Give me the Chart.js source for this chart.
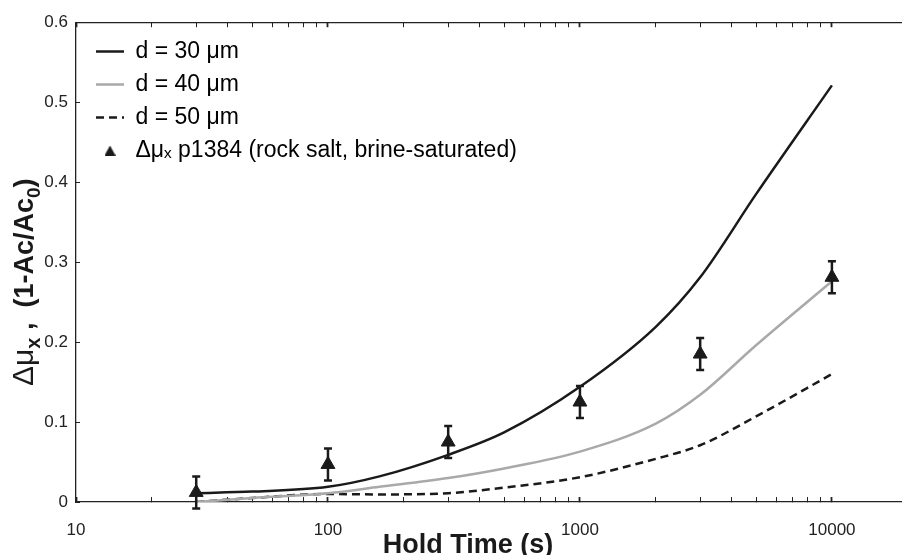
<!DOCTYPE html>
<html>
<head>
<meta charset="utf-8">
<script src="https://cdn.jsdelivr.net/npm/chart.js@4.4.1/dist/chart.umd.min.js"></script>
<style>
  html, body { margin: 0; padding: 0; background: #fff; }
  canvas { display: block; }
</style>
</head>
<body>
<canvas id="chart" width="902" height="555"></canvas>
<script>
// model curves: hold time (s) -> delta mu_x
const curveTimes = [30, 50, 100, 160, 300, 500, 1000, 2000, 3000, 5000, 10000];
const d30 = [0.011, 0.013, 0.019, 0.032, 0.059, 0.087, 0.144, 0.219, 0.281, 0.385, 0.521];
const d40 = [0.000, 0.005, 0.011, 0.019, 0.030, 0.042, 0.063, 0.098, 0.134, 0.196, 0.276];
const d50 = [0.000, 0.005, 0.010, 0.0095, 0.011, 0.018, 0.031, 0.054, 0.071, 0.107, 0.160];

// measured p1384 (rock salt, brine-saturated)
const obsTimes = [30, 100, 300, 1000, 3000, 10000];
const obsMu    = [0.012, 0.047, 0.075, 0.125, 0.185, 0.281];
const obsErr   = [0.020, 0.020, 0.020, 0.020, 0.020, 0.020];

const xTickLabels = [10, 100, 1000, 10000];
const yTicks      = [0, 0.1, 0.2, 0.3, 0.4, 0.5, 0.6];
const yTickLabels = ['0', '0.1', '0.2', '0.3', '0.4', '0.5', '0.6'];

const FONT = "'Liberation Sans', Arial, Helvetica, sans-serif";
const INK = '#1a1a1a';

// minor ticks 10,20..90,100,200.. on the log axis
const xTicks = [];
xTickLabels.forEach((d, i) => {
  if (i === xTickLabels.length - 1) { xTicks.push(d); return; }
  for (let k = 1; k <= 9; k++) xTicks.push(k * d);
});
const isDecade = v => xTickLabels.includes(v);

const pairs = (xs, ys) => xs.map((x, i) => ({ x, y: ys[i] }));

// small triangle for the legend entry
const triIcon = document.createElement('canvas');
triIcon.width = 11; triIcon.height = 10;
(() => {
  const t = triIcon.getContext('2d');
  t.fillStyle = INK;
  t.beginPath(); t.moveTo(5.5, 0); t.lineTo(11, 10); t.lineTo(0, 10); t.closePath(); t.fill();
})();

// error bars drawn behind the triangles
const errorBars = {
  id: 'errorBars',
  beforeDatasetDraw(chart, args) {
    const ds = chart.data.datasets[args.index];
    if (!ds.errors) return;
    const y = chart.scales.y, c = chart.ctx;
    c.save();
    c.strokeStyle = INK;
    c.lineWidth = 2.5;
    args.meta.data.forEach((pt, i) => {
      const top = y.getPixelForValue(obsMu[i] + ds.errors[i]);
      const bot = y.getPixelForValue(obsMu[i] - ds.errors[i]);
      c.beginPath();
      c.moveTo(pt.x, top); c.lineTo(pt.x, bot);
      c.moveTo(pt.x - 4, top); c.lineTo(pt.x + 4, top);
      c.moveTo(pt.x - 4, bot); c.lineTo(pt.x + 4, bot);
      c.stroke();
    });
    c.restore();
  }
};

// nudge the in-plot legend to where the figure has it
const legendNudge = {
  id: 'legendNudge',
  afterLayout(chart) {
    chart.legend.left += 10;
    chart.legend.top += 30;
  }
};

// axis titles with sub-scripts
const axisTitles = {
  id: 'axisTitles',
  afterDraw(chart) {
    const c = chart.ctx;
    c.save();
    c.fillStyle = INK;
    c.textBaseline = 'alphabetic';
    c.font = `bold 27px ${FONT}`;
    c.textAlign = 'center';
    c.fillText('Hold Time (s)', 468, 553);

    c.translate(33, 386);
    c.rotate(-Math.PI / 2);
    c.textAlign = 'left';
    const parts = [
      { t: '\u0394\u03bc', f: `30px ${FONT}`, dy: 0 },
      { t: 'x', f: `bold 20px ${FONT}`, dy: 7 },
      { t: ' ,  (1-Ac/Ac', f: `bold 27px ${FONT}`, dy: 0 },
      { t: '0', f: `bold 19px ${FONT}`, dy: 7 },
      { t: ')', f: `bold 27px ${FONT}`, dy: 0 }
    ];
    let x = 0;
    parts.forEach(p => {
      c.font = p.f;
      c.fillText(p.t, x, p.dy);
      x += c.measureText(p.t).width;
    });
    c.restore();
  }
};

const logAxis = (position) => ({
  type: 'logarithmic',
  position,
  bounds: 'data',
  min: 10,
  max: 18800,
  afterBuildTicks: s => { s.ticks = xTicks.map(v => ({ value: v })); },
  afterFit: s => {
    s.height = position === 'bottom' ? 53 : 0;
    s.paddingLeft = 0;
    s.paddingRight = 0;
  },
  ticks: {
    display: position === 'bottom',
    autoSkip: false,
    maxRotation: 0,
    padding: 23,
    font: { family: FONT, size: 17 },
    color: '#222',
    callback: v => isDecade(v) ? String(v) : ''
  },
  grid: {
    drawOnChartArea: false,
    drawTicks: true,
    tickLength: -5,
    tickColor: '#222',
    tickWidth: c => (c.tick && isDecade(c.tick.value)) ? 1.8 : 1
  },
  border: { color: '#222', width: 1.3 }
});

new Chart(document.getElementById('chart'), {
  type: 'line',
  data: {
    datasets: [
      { label: 'd = 30 \u03bcm', data: pairs(curveTimes, d30), borderColor: INK, backgroundColor: INK,
        borderWidth: 2.5, pointRadius: 0, pointStyle: 'line', cubicInterpolationMode: 'monotone' },
      { label: 'd = 40 \u03bcm', data: pairs(curveTimes, d40), borderColor: '#a9a9a9', backgroundColor: '#a9a9a9',
        borderWidth: 2.5, pointRadius: 0, pointStyle: 'line', cubicInterpolationMode: 'monotone' },
      { label: 'd = 50 \u03bcm', data: pairs(curveTimes, d50), borderColor: INK, backgroundColor: INK,
        borderWidth: 2.5, borderDash: [8, 5], pointRadius: 0, pointStyle: 'line', cubicInterpolationMode: 'monotone' },
      { label: '\u0394\u03bc\u2093 p1384 (rock salt, brine-saturated)', data: pairs(obsTimes, obsMu),
        errors: obsErr, showLine: false, order: -1, pointStyle: 'triangle', pointRadius: 8,
        legendIcon: triIcon, backgroundColor: INK, borderColor: INK, borderWidth: 1 }
    ]
  },
  options: {
    responsive: false,
    animation: false,
    events: [],
    layout: { autoPadding: false, padding: { top: 21, left: 0, right: 1, bottom: 0 } },
    plugins: {
      tooltip: { enabled: false },
      legend: {
        position: 'chartArea',
        align: 'start',
        labels: {
          usePointStyle: true,
          pointStyleWidth: 28,
          boxHeight: 8,
          padding: 10,
          color: INK,
          font: { family: FONT, size: 23 },
          generateLabels: chart => chart.data.datasets.map((ds, i) => ({
            text: ds.label,
            datasetIndex: i,
            fillStyle: ds.backgroundColor,
            strokeStyle: ds.borderColor,
            lineWidth: ds.pointStyle === 'line' ? 2.5 : 1,
            lineDash: ds.borderDash || [],
            pointStyle: ds.legendIcon || ds.pointStyle,
            hidden: false
          }))
        }
      }
    },
    scales: {
      x: logAxis('bottom'),
      xTop: logAxis('top'),
      y: {
        min: 0,
        max: 0.6,
        afterBuildTicks: s => { s.ticks = yTicks.map(v => ({ value: v })); },
        afterFit: s => { s.width = 76; },
        ticks: {
          padding: 12,
          font: { family: FONT, size: 17 },
          color: '#222',
          callback: (v, i) => yTickLabels[i]
        },
        grid: { drawOnChartArea: false, drawTicks: true, tickLength: -4, tickColor: '#222' },
        border: { color: '#222', width: 1.3 }
      }
    }
  },
  plugins: [errorBars, legendNudge, axisTitles]
});
</script>
</body>
</html>
